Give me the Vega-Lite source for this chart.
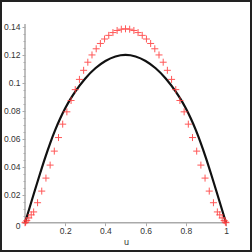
{
  "$schema": "https://vega.github.io/schema/vega-lite/v6.json",
  "width": 252,
  "height": 252,
  "padding": 0,
  "autosize": {"type": "none"},
  "background": "white",
  "config": {
    "view": {"stroke": "#222", "strokeWidth": 4},
    "font": "Liberation Sans"
  },
  "datasets": {
    "axes": [
      {"x": 0, "x2": 1, "y": 0, "y2": 0},
      {"x": 0, "x2": 0, "y": 0, "y2": 0.1421}
    ],
    "curve": [
      {"x": 0, "y": 0}, {"x": 0.025, "y": 0.0118}, {"x": 0.05, "y": 0.0236},
      {"x": 0.075, "y": 0.0352}, {"x": 0.1, "y": 0.0464}, {"x": 0.125, "y": 0.0568},
      {"x": 0.15, "y": 0.0662}, {"x": 0.175, "y": 0.0745}, {"x": 0.2, "y": 0.0818},
      {"x": 0.225, "y": 0.0882}, {"x": 0.25, "y": 0.0938}, {"x": 0.3, "y": 0.1032},
      {"x": 0.35, "y": 0.1105}, {"x": 0.4, "y": 0.1157}, {"x": 0.45, "y": 0.1189},
      {"x": 0.5, "y": 0.12}, {"x": 0.55, "y": 0.1189}, {"x": 0.6, "y": 0.1157},
      {"x": 0.65, "y": 0.1105}, {"x": 0.7, "y": 0.1032}, {"x": 0.75, "y": 0.0938},
      {"x": 0.775, "y": 0.0882}, {"x": 0.8, "y": 0.0818}, {"x": 0.825, "y": 0.0745},
      {"x": 0.85, "y": 0.0662}, {"x": 0.875, "y": 0.0568}, {"x": 0.9, "y": 0.0464},
      {"x": 0.925, "y": 0.0352}, {"x": 0.95, "y": 0.0236}, {"x": 0.975, "y": 0.0118},
      {"x": 1, "y": 0}
    ],
    "pts": [
      {"x": 0, "y": 0}, {"x": 0.003, "y": 0.0004}, {"x": 0.009, "y": 0.0015},
      {"x": 0.019, "y": 0.0034}, {"x": 0.031, "y": 0.0056}, {"x": 0.043, "y": 0.0077},
      {"x": 0.0625, "y": 0.0143}, {"x": 0.0833, "y": 0.0226}, {"x": 0.1042, "y": 0.0319},
      {"x": 0.125, "y": 0.0412}, {"x": 0.1458, "y": 0.0512}, {"x": 0.1667, "y": 0.0609},
      {"x": 0.1875, "y": 0.0705}, {"x": 0.2083, "y": 0.0793}, {"x": 0.2292, "y": 0.0874},
      {"x": 0.25, "y": 0.0952}, {"x": 0.2708, "y": 0.1025}, {"x": 0.2917, "y": 0.109},
      {"x": 0.3125, "y": 0.1148}, {"x": 0.3333, "y": 0.12}, {"x": 0.3542, "y": 0.1244},
      {"x": 0.375, "y": 0.1282}, {"x": 0.3958, "y": 0.1314}, {"x": 0.4167, "y": 0.134},
      {"x": 0.4375, "y": 0.136}, {"x": 0.4583, "y": 0.1375}, {"x": 0.4792, "y": 0.1384},
      {"x": 0.5, "y": 0.1387},
      {"x": 0.5208, "y": 0.1384}, {"x": 0.5417, "y": 0.1375}, {"x": 0.5625, "y": 0.136},
      {"x": 0.5833, "y": 0.134}, {"x": 0.6042, "y": 0.1314}, {"x": 0.625, "y": 0.1282},
      {"x": 0.6458, "y": 0.1244}, {"x": 0.6667, "y": 0.12}, {"x": 0.6875, "y": 0.1148},
      {"x": 0.7083, "y": 0.109}, {"x": 0.7292, "y": 0.1025}, {"x": 0.75, "y": 0.0952},
      {"x": 0.7708, "y": 0.0874}, {"x": 0.7917, "y": 0.0793}, {"x": 0.8125, "y": 0.0705},
      {"x": 0.8333, "y": 0.0609}, {"x": 0.8542, "y": 0.0512}, {"x": 0.875, "y": 0.0412},
      {"x": 0.8958, "y": 0.0319}, {"x": 0.9167, "y": 0.0226}, {"x": 0.9375, "y": 0.0143},
      {"x": 0.957, "y": 0.0077}, {"x": 0.969, "y": 0.0056}, {"x": 0.981, "y": 0.0034},
      {"x": 0.991, "y": 0.0015}, {"x": 0.997, "y": 0.0004}, {"x": 1, "y": 0}
    ]
  },
  "resolve": {"axis": {"y": "independent"}},
  "layer": [
    {
      "data": {"name": "axes"},
      "mark": {"type": "rule", "color": "#aaaaaa", "strokeWidth": 1.5},
      "encoding": {
        "x": {
          "field": "x", "type": "quantitative",
          "scale": {"domain": [-0.12438, 1.12935], "nice": false, "zero": false},
          "axis": {
            "title": "u", "titleFontSize": 9, "titleFontWeight": "normal", "titleColor": "#333", "titlePadding": 2,
            "values": [0,0.05,0.1,0.15,0.2,0.25,0.3,0.35,0.4,0.45,0.5,0.55,0.6,0.65,0.7,0.75,0.8,0.85,0.9,0.95,1],
            "format": "~g",
            "labelExpr": "indexof([0.2,0.4,0.6,0.8,1], datum.value) >= 0 ? datum.label : ''",
            "domain": false, "grid": false, "offset": -29.3,
            "tickColor": "#aaaaaa", "tickWidth": 1,
            "tickSize": {"condition": {"test": "indexof([0.2,0.4,0.6,0.8,1], datum.value) >= 0", "value": 3}, "value": 2},
            "labelPadding": 1, "labelFontSize": 8.5, "labelColor": "#333", "labelFlush": false, "labelOverlap": false
          }
        },
        "x2": {"field": "x2"},
        "y": {
          "field": "y", "type": "quantitative",
          "scale": {"domain": [-0.02096, 0.1593], "nice": false, "zero": false},
          "axis": {
            "title": null, "orient": "left",
            "values": [0,0.02,0.04,0.06,0.08,0.1,0.12,0.14],
            "format": "~g",
            "domain": false, "grid": false, "offset": -25,
            "tickColor": "#aaaaaa", "tickWidth": 1, "tickSize": 3,
            "labelOffset": {"condition": {"test": "datum.value === 0", "value": 3}, "value": 0},
            "labelPadding": 2, "labelFontSize": 8.5, "labelColor": "#333", "labelFlush": false, "labelOverlap": false
          }
        },
        "y2": {"field": "y2"}
      }
    },
    {
      "data": {"name": "curve"},
      "mark": {"type": "line", "color": "#111111", "strokeWidth": 2.2, "interpolate": "monotone"},
      "encoding": {
        "x": {"field": "x", "type": "quantitative"},
        "y": {
          "field": "y", "type": "quantitative",
          "axis": {
            "title": null, "orient": "left",
            "values": [0.005,0.01,0.015,0.025,0.03,0.035,0.045,0.05,0.055,0.065,0.07,0.075,0.085,0.09,0.095,0.105,0.11,0.115,0.125,0.13,0.135],
            "labels": false, "domain": false, "grid": false, "offset": -25,
            "tickColor": "#aaaaaa", "tickWidth": 1, "tickSize": 2
          }
        }
      }
    },
    {
      "data": {"name": "pts"},
      "mark": {"type": "point", "shape": "M-1,0H1M0,-1V1", "size": 49, "filled": false, "stroke": "#ff3b3b", "strokeWidth": 1, "opacity": 0.85},
      "encoding": {
        "x": {"field": "x", "type": "quantitative"},
        "y": {"field": "y", "type": "quantitative", "axis": null}
      }
    }
  ]
}
